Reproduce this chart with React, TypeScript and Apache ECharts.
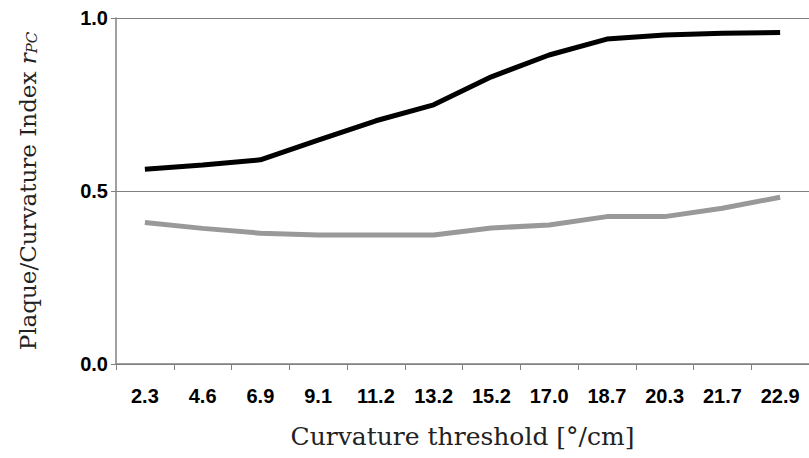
import React, { useEffect, useRef } from "react";
import * as echarts from "echarts";

const categories = ["2.3", "4.6", "6.9", "9.1", "11.2", "13.2", "15.2", "17.0", "18.7", "20.3", "21.7", "22.9"];
const blackSeries = [0.563, 0.575, 0.59, 0.647, 0.703, 0.749, 0.83, 0.893, 0.939, 0.951, 0.956, 0.958];
const graySeries = [0.409, 0.392, 0.378, 0.373, 0.373, 0.373, 0.393, 0.402, 0.426, 0.426, 0.45, 0.482];
const yTicks = { min: 0, max: 1, interval: 0.5 };

export default function App() {
  const ref = useRef<HTMLDivElement>(null);
  useEffect(() => {
    if (!ref.current) return;
    const chart = echarts.init(ref.current, null, { renderer: "svg" });
    const axisGray = "#808080";
    const serif = "DejaVu Serif, serif";
    chart.setOption({
      animation: false,
      backgroundColor: "#ffffff",
      grid: { left: 116, right: -4, top: 18, bottom: 94, containLabel: false },
      xAxis: {
        type: "category",
        data: categories,
        boundaryGap: true,
        axisLine: { show: true, lineStyle: { color: axisGray, width: 1.5 } },
        axisTick: { show: true, interval: 0, length: 6, lineStyle: { color: axisGray, width: 1 } },
        axisLabel: {
          interval: 0,
          margin: 22,
          fontFamily: "Liberation Sans, Arial, sans-serif",
          fontWeight: "bold",
          fontSize: 20,
          color: "#000",
        },
        name: "Curvature threshold [°/cm]",
        nameLocation: "middle",
        nameGap: 60,
        nameTextStyle: { fontFamily: serif, fontSize: 25, color: "#222" },
      },
      yAxis: {
        type: "value",
        min: yTicks.min,
        max: yTicks.max,
        interval: yTicks.interval,
        axisLine: { show: true, lineStyle: { color: axisGray, width: 1.5 } },
        axisTick: { show: true, length: 5, lineStyle: { color: axisGray, width: 1 } },
        axisLabel: {
          margin: 8,
          formatter: (v: number) => v.toFixed(1),
          fontFamily: "Liberation Sans, Arial, sans-serif",
          fontWeight: "bold",
          fontSize: 20,
          color: "#000",
        },
        splitLine: { show: true, lineStyle: { color: axisGray, width: 1.2 } },
        name: "{a|Plaque/Curvature Index }{i|r}{s|PC}",
        nameLocation: "middle",
        nameGap: 77,
        nameRotate: 90,
        nameTextStyle: {
          fontFamily: serif,
          fontSize: 23,
          color: "#222",
          rich: {
            a: { fontFamily: serif, fontSize: 23, color: "#222" },
            i: { fontFamily: serif, fontStyle: "italic", fontSize: 23, color: "#222" },
            s: { fontFamily: serif, fontStyle: "italic", fontSize: 15, color: "#222", padding: [8, 0, 0, 0] },
          },
        },
      },
      series: [
        {
          type: "line",
          data: blackSeries,
          symbol: "none",
          lineStyle: { color: "#000000", width: 5 },
          z: 3,
        },
        {
          type: "line",
          data: graySeries,
          symbol: "none",
          lineStyle: { color: "#999999", width: 5 },
          z: 2,
        },
      ],
    });
    return () => chart.dispose();
  }, []);
  return <div ref={ref} style={{ width: 809, height: 458, position: "absolute", left: 0, top: 0 }} />;
}
